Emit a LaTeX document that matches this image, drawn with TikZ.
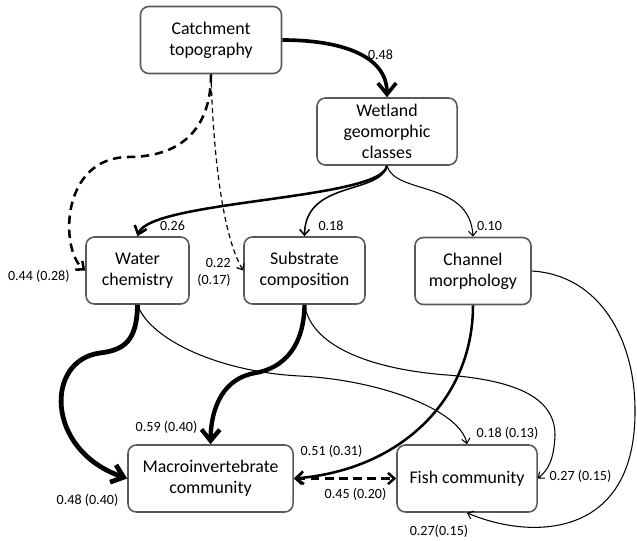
\documentclass[tikz,border=0pt]{standalone}
\usepackage{fontspec}
\setmainfont{Carlito}
\usetikzlibrary{arrows.meta}
\tikzset{
  varbox/.style={draw=black!65, line width=1.1pt, rounded corners=6pt, align=center,
    minimum height=1.675cm, inner sep=2pt, font=\fontsize{12.7}{15}\selectfont},
  lab/.style={font=\fontsize{10}{12}\selectfont, inner sep=0pt},
  heavyarrow/.style={line width=3.4pt, -{Straight Barb[length=8pt,width=13pt]}},
  midarrow/.style={line width=1.8pt, -{Straight Barb[length=5.5pt,width=9pt]}},
  lightarrow/.style={line width=1.1pt, -{Straight Barb[length=4pt,width=7pt]}},
  finearrow/.style={line width=0.75pt, -{Straight Barb[length=3.5pt,width=6pt]}},
  dashthick/.style={line width=1.8pt, dash pattern=on 6pt off 4pt, -{Straight Barb[length=4.5pt,width=8pt]}},
  dashthin/.style={line width=0.85pt, dash pattern=on 3.5pt off 2.5pt, -{Straight Barb[length=3.5pt,width=6pt]}}
}
\begin{document}
\begin{tikzpicture}[x=0.025cm,y=-0.025cm]
\useasboundingbox (0,0) rectangle (637,540);

\node[varbox, minimum width=3.525cm] (catch) at (211,40) {Catchment\\topography};
\node[varbox, minimum width=3.5cm] (wet) at (387,131.5) {Wetland\\geomorphic\\classes};
\node[varbox, minimum width=2.575cm] (water) at (137.5,270.5) {Water\\chemistry};
\node[varbox, minimum width=3.025cm] (sub) at (304.5,270.5) {Substrate\\composition};
\node[varbox, minimum width=2.9cm] (chan) at (473,271) {Channel\\morphology};
\node[varbox, minimum width=4.125cm] (macro) at (210.5,478.5) {Macroinvertebrate\\community};
\node[varbox, minimum width=3.5cm] (fish) at (467,478.5) {Fish community};

\draw[heavyarrow, line width=2.6pt] (catch.east) .. controls (340,40) and (387,55) .. (wet.north);
\draw[dashthick] (catch.south) .. controls (211,130) and (180,157) .. (128,157)
  .. controls (60,158) and (60,250) .. (water.west);
\draw[dashthin] (catch.south) .. controls (213,150) and (222,235) .. (sub.west);

\draw[midarrow] (wet.south) .. controls (382,200) and (150,200) .. (water.north);
\draw[lightarrow] (wet.south) .. controls (380,195) and (305,180) .. (sub.north);
\draw[finearrow] (wet.south) .. controls (395,195) and (470,180) .. (chan.north);

\draw[heavyarrow] (water.south) .. controls (137,340) and (125,350) .. (100,353)
  .. controls (45,360) and (45,450) .. (macro.west);
\draw[finearrow] (water.south) .. controls (150,340) and (220,372) .. (300,376)
  .. controls (380,380) and (460,410) .. (fish.north);
\draw[heavyarrow, line width=3.1pt] (sub.south) .. controls (304,345) and (285,368) .. (255,373)
  .. controls (225,378) and (211,405) .. (macro.north);
\draw[finearrow] (sub.south) .. controls (312,350) and (380,370) .. (447,375)
  .. controls (510,380) and (555,395) .. (555,435) .. controls (554,460) and (548,470) .. (fish.east);
\draw[midarrow] (chan.south) .. controls (473,400) and (400,470) .. (macro.east);
\draw[finearrow] (chan.east) .. controls (600,275) and (635,340) .. (635,410)
  .. controls (636,540) and (530,540) .. (fish.south);
\draw[dashthick, {Straight Barb[length=4.5pt,width=8pt]}-{Straight Barb[length=4.5pt,width=8pt]}] (macro.east) -- (fish.west);

\node[lab] (l48) at (380.5,55) {0.48};
\node[lab] (l26) at (172.5,226) {0.26};
\node[lab] (l18) at (331,226) {0.18};
\node[lab] (l10) at (489.5,226) {0.10};
\node[lab] (l44) at (38.8,276) {0.44 (0.28)};
\node[lab, align=right] (l22) at (214,272.5) {0.22\\(0.17)};
\node[lab] (l59) at (166.5,427) {0.59 (0.40)};
\node[lab] (l48b) at (87.5,500) {0.48 (0.40)};
\node[lab] (l51) at (331.5,451.7) {0.51 (0.31)};
\node[lab] (l18b) at (507.5,433) {0.18 (0.13)};
\node[lab] (l27) at (580.5,476) {0.27 (0.15)};
\node[lab] (l45) at (355.5,494) {0.45 (0.20)};
\node[lab] (l27b) at (439,531) {0.27(0.15)};
\end{tikzpicture}
\end{document}
